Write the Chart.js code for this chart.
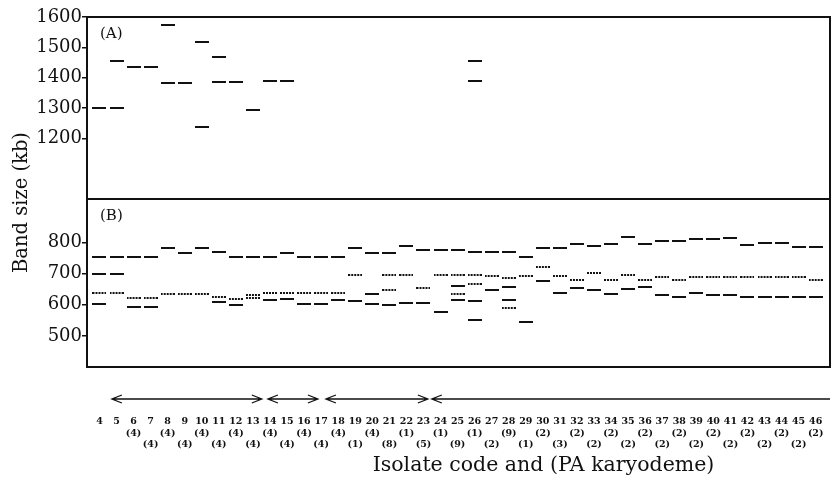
<!DOCTYPE html>
<html>
<head>
<meta charset="utf-8">
<script src="https://cdn.jsdelivr.net/npm/chart.js@4.4.1/dist/chart.umd.min.js"></script>
<style>
  html, body { margin: 0; padding: 0; background: #fff; }
  #wrap { width: 840px; height: 485px; }
</style>
</head>
<body>
<div id="wrap"><canvas id="bands" width="840" height="485"></canvas></div>
<script>
const isolateCodes = [4, 5, 6, 7, 8, 9, 10, 11, 12, 13, 14, 15, 16, 17, 18, 19, 20, 21, 22, 23, 24, 25,
  26, 27, 28, 29, 30, 31, 32, 33, 34, 35, 36, 37, 38, 39, 40, 41, 42, 43, 44, 45, 46];
const karyodemes = ['', '', '(4)', '(4)', '(4)', '(4)', '(4)', '(4)', '(4)', '(4)', '(4)', '(4)', '(4)', '(4)',
  '(4)', '(1)', '(4)', '(8)', '(1)', '(5)', '(1)', '(9)', '(1)', '(2)', '(9)', '(1)', '(2)', '(3)', '(2)', '(2)',
  '(2)', '(2)', '(2)', '(2)', '(2)', '(2)', '(2)', '(2)', '(2)', '(2)', '(2)', '(2)', '(2)'];

// (A) large bands, one list per isolate
const bandsA = [
  [1300], [1300, 1455], [1435], [1435], [1572, 1383], [1383], [1518, 1238], [1468, 1385], [1387], [1293],
  [1388], [1388], [], [], [], [], [], [], [], [], [], [], [1455, 1390],
  [], [], [], [], [], [], [], [], [], [], [], [], [], [], [], [], [], [], [], [],
];
// (B) strong bands
const bandsStrong = [
  [754, 698, 602], [754, 698], [754, 594], [754, 594], [782], [766], [781], [769, 608], [755, 600], [754],
  [754, 615], [765, 618], [752, 604], [752, 604], [752, 615], [782, 612], [765, 636, 601], [765, 598],
  [789, 605], [776, 605], [776, 578], [775, 660, 614], [770, 612, 552], [769, 647], [769, 657, 614],
  [755, 546], [784, 677], [784, 637], [794, 653], [789, 648], [796, 636], [818, 650], [796, 657], [805, 633],
  [805, 625], [813, 638], [813, 631], [816, 633], [792, 625], [797, 625], [797, 625], [787, 625], [787, 624],
];
// (B) faint bands
const bandsFaint = [
  [639], [639], [623], [623], [634], [634], [634], [625], [617], [632, 623], [639], [639], [639], [639], [639],
  [695], [], [695, 648], [695], [653], [695], [695, 636], [696, 668], [693], [687, 591], [691], [720], [691],
  [681], [702], [680], [697], [680], [690], [680], [690], [690], [688], [690], [690], [690], [690], [679],
];
const ticksA = [1200, 1300, 1400, 1500, 1600];
const ticksB = [500, 600, 700, 800];
// group arrows, in isolate-code units
const groupArrows = [[4.73, 13.52, true], [13.88, 16.81, true], [17.28, 23.26, true], [23.49, 46.84, false]];

const SERIF = 'DejaVu Serif';
const INK = '#111';

function bandImage(dotted) {
  const c = document.createElement('canvas');
  c.width = 14;
  c.height = 2;
  const g = c.getContext('2d');
  g.fillStyle = INK;
  if (dotted) {
    for (let i = 0; i < 14; i += 3) g.fillRect(i, 0, 2, 2);
  } else {
    g.fillRect(0, 0, 14, 2);
  }
  return c;
}
const solidBand = bandImage(false);
const dottedBand = bandImage(true);

const toPoints = (lanes) => lanes.flatMap((sizes, i) => sizes.map((y) => ({ x: isolateCodes[i], y })));

const codeLabel = (v) => {
  const k = karyodemes[isolateCodes.indexOf(v)] || '';
  return v % 2 === 0 ? [String(v), k, ''] : [String(v), '', k];
};

function drawArrow(ctx, x1, x2, y, both) {
  ctx.beginPath();
  ctx.moveTo(x1, y);
  ctx.lineTo(x2, y);
  ctx.moveTo(x1 + 10, y - 4);
  ctx.lineTo(x1, y);
  ctx.lineTo(x1 + 10, y + 4);
  if (both) {
    ctx.moveTo(x2 - 10, y - 4);
    ctx.lineTo(x2, y);
    ctx.lineTo(x2 - 10, y + 4);
  }
  ctx.stroke();
}

const decorPlugin = {
  id: 'decor',
  afterDraw(chart) {
    const { ctx, chartArea: a, scales } = chart;
    ctx.save();
    ctx.strokeStyle = INK;
    ctx.lineWidth = 2;
    ctx.strokeRect(a.left, a.top, a.width, a.height);
    ctx.beginPath();
    ctx.moveTo(a.left, scales.yA.bottom);
    ctx.lineTo(a.right, scales.yA.bottom);
    ctx.stroke();

    ctx.fillStyle = INK;
    ctx.font = `15px "${SERIF}"`;
    ctx.textBaseline = 'top';
    ctx.fillText('(A)', a.left + 13, scales.yA.top + 10);
    ctx.fillText('(B)', a.left + 13, scales.yB.top + 10);

    ctx.lineWidth = 1.3;
    groupArrows.forEach(([from, to, both]) => {
      const x1 = scales.x.getPixelForValue(from);
      const x2 = Math.min(scales.x.getPixelForValue(to), a.right);
      drawArrow(ctx, x1, x2, 399, both);
    });

    ctx.textBaseline = 'alphabetic';
    ctx.font = `20.5px "${SERIF}"`;
    ctx.textAlign = 'center';
    ctx.fillText('Isolate code and (PA karyodeme)', (a.left + a.right) / 2 + 85, 471);

    ctx.translate(27, 273);
    ctx.rotate(-Math.PI / 2);
    ctx.textAlign = 'left';
    ctx.font = `19.5px "${SERIF}"`;
    ctx.fillText('Band size (kb)', 0, 0);
    ctx.restore();
  },
};

const yAxis = (min, max, ticks, weight) => ({
  type: 'linear',
  position: 'left',
  stack: 'panels',
  stackWeight: weight,
  min,
  max,
  afterBuildTicks: (s) => (s.ticks = ticks.map((value) => ({ value }))),
  afterFit: (s) => (s.width = 87),
  border: { display: false },
  grid: { drawOnChartArea: false, drawTicks: true, tickLength: 5, color: INK, lineWidth: 1.5 },
  ticks: { padding: 0, color: INK, font: { family: SERIF, size: 18 }, callback: (v) => String(v) },
});

new Chart(document.getElementById('bands'), {
  type: 'scatter',
  data: {
    datasets: [
      { label: 'A', data: toPoints(bandsA), yAxisID: 'yA', pointStyle: solidBand, pointRadius: 7 },
      { label: 'B strong', data: toPoints(bandsStrong), yAxisID: 'yB', pointStyle: solidBand, pointRadius: 7 },
      { label: 'B faint', data: toPoints(bandsFaint), yAxisID: 'yB', pointStyle: dottedBand, pointRadius: 7 },
    ],
  },
  options: {
    responsive: false,
    animation: false,
    layout: { padding: { top: 17, right: 10, left: 0, bottom: 0 } },
    plugins: { legend: { display: false }, tooltip: { enabled: false } },
    scales: {
      x: {
        type: 'linear',
        min: 3.27,
        max: 46.84,
        afterBuildTicks: (s) => (s.ticks = isolateCodes.map((value) => ({ value }))),
        afterFit: (s) => {
          s.height = 118;
          s.paddingLeft = 0;
          s.paddingRight = 0;
        },
        border: { display: false },
        grid: { display: false, drawTicks: false, tickLength: 0 },
        ticks: {
          autoSkip: false,
          maxRotation: 0,
          padding: 49,
          color: INK,
          font: { family: SERIF, size: 9.5, weight: 'bold', lineHeight: 1.2 },
          callback: codeLabel,
        },
      },
      yB: yAxis(400, 940, ticksB, 168),
      yA: yAxis(1000, 1600, ticksA, 182),
    },
  },
  plugins: [decorPlugin],
});
</script>
</body>
</html>
